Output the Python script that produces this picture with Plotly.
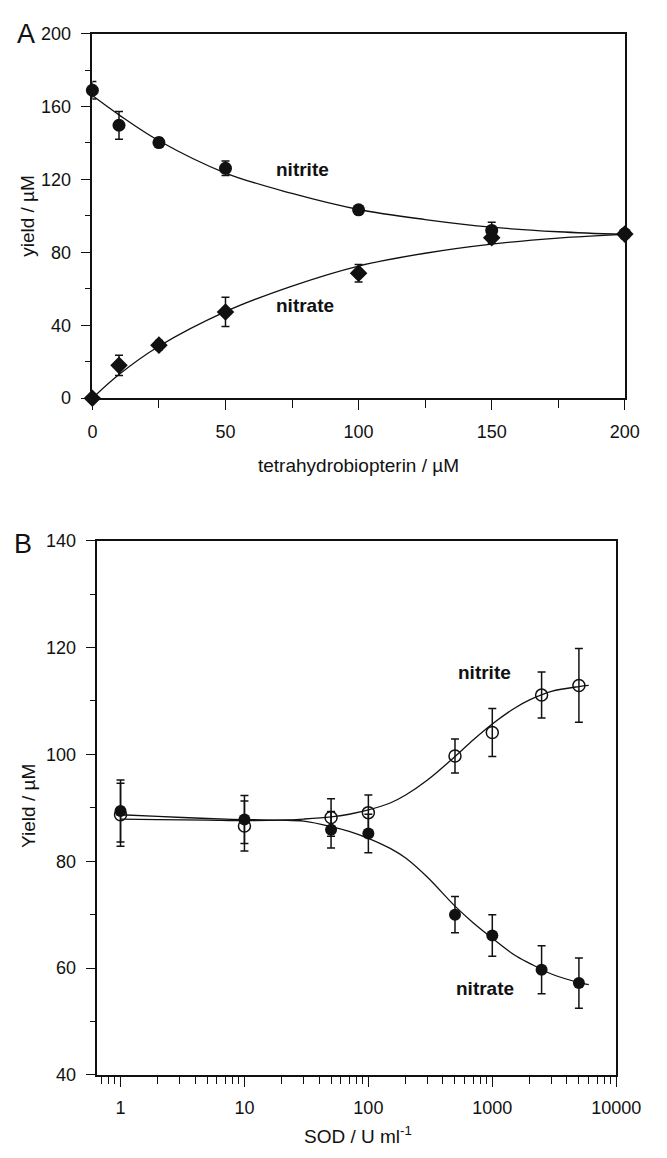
import plotly.graph_objects as go
import math

# ---------------- Panel A data ----------------
a_x = [0, 10, 25, 50, 100, 150, 200]
a_nitrite = [168.9, 149.7, 140.2, 126.1, 103.3, 92.0, 90.2]
a_nitrite_err = [4.8, 7.6, 2.5, 4.0, 1.0, 4.5, 2.0]
a_nitrate = [0.0, 18.0, 29.1, 47.3, 68.6, 88.0, 90.0]
a_nitrate_err = [1.0, 5.5, 2.5, 8.0, 4.8, 3.0, 2.5]

a_fit_x = [0, 10, 25, 50, 75, 100, 125, 150, 175, 200]
a_nitrite_fit = [166.0, 155.4, 141.2, 123.5, 112.3, 103.5, 98.0, 93.8, 91.3, 89.8]
a_nitrate_fit = [0.0, 13.0, 28.5, 47.5, 61.5, 72.5, 79.5, 84.5, 87.8, 89.8]

a_xticks = [0, 50, 100, 150, 200]
a_yticks = [0, 40, 80, 120, 160, 200]

# ---------------- Panel B data ----------------
b_x = [1, 10, 50, 100, 500, 1000, 2500, 5000]
b_nitrite = [88.7, 86.6, 88.2, 89.1, 99.7, 104.1, 111.1, 112.9]
b_nitrite_err = [5.9, 4.7, 3.5, 3.3, 3.2, 4.5, 4.3, 6.9]
b_nitrate = [89.4, 87.8, 85.9, 85.2, 70.0, 66.1, 59.7, 57.2]
b_nitrate_err = [5.8, 4.5, 3.4, 3.6, 3.4, 3.9, 4.5, 4.7]

b_fit_x = [1, 2, 5, 10, 20, 30, 50, 70, 100, 150, 200, 300, 500, 700, 1000, 1500, 2000, 3000, 5000, 6000]
b_nitrite_fit = [87.9, 87.8, 87.7, 87.6, 87.7, 87.9, 88.3, 88.8, 89.6, 90.9, 92.4, 95.2, 99.6, 102.7, 105.7, 108.6, 110.2, 111.8, 112.7, 112.9]
b_nitrate_fit = [88.7, 88.4, 88.0, 87.8, 87.7, 87.5, 86.5, 85.6, 84.3, 82.4, 80.6, 77.0, 71.6, 68.5, 65.6, 62.5, 60.9, 58.9, 57.3, 56.9]

b_xticks = [1, 10, 100, 1000, 10000]
b_xtick_labels = ["1", "10", "100", "1000", "10000"]
b_xminor = [m * 10 ** d for d in range(-1, 4) for m in range(2, 10)]
b_yticks = [40, 60, 80, 100, 120, 140]

FONT = "Liberation Sans, Arial, sans-serif"
BLACK = "#111111"

fig = go.Figure()

# Panel A curves
fig.add_trace(go.Scatter(x=a_fit_x, y=a_nitrite_fit, mode="lines", line=dict(color=BLACK, width=1.3, shape="spline"),
                         xaxis="x", yaxis="y", showlegend=False, hoverinfo="skip"))
fig.add_trace(go.Scatter(x=a_fit_x, y=a_nitrate_fit, mode="lines", line=dict(color=BLACK, width=1.3, shape="spline"),
                         xaxis="x", yaxis="y", showlegend=False, hoverinfo="skip"))
# Panel A points
fig.add_trace(go.Scatter(x=a_x, y=a_nitrate, mode="markers", cliponaxis=False,
                         marker=dict(symbol="diamond", size=13.5, color=BLACK),
                         error_y=dict(type="data", array=a_nitrate_err, color=BLACK, thickness=1.5, width=4),
                         xaxis="x", yaxis="y", showlegend=False))
fig.add_trace(go.Scatter(x=a_x, y=a_nitrite, mode="markers", cliponaxis=False,
                         marker=dict(symbol="circle", size=13, color=BLACK),
                         error_y=dict(type="data", array=a_nitrite_err, color=BLACK, thickness=1.5, width=4),
                         xaxis="x", yaxis="y", showlegend=False))

# Panel B curves
fig.add_trace(go.Scatter(x=b_fit_x, y=b_nitrite_fit, mode="lines", line=dict(color=BLACK, width=1.3, shape="spline"),
                         xaxis="x2", yaxis="y2", showlegend=False, hoverinfo="skip"))
fig.add_trace(go.Scatter(x=b_fit_x, y=b_nitrate_fit, mode="lines", line=dict(color=BLACK, width=1.3, shape="spline"),
                         xaxis="x2", yaxis="y2", showlegend=False, hoverinfo="skip"))
# Panel B points
fig.add_trace(go.Scatter(x=b_x, y=b_nitrate, mode="markers", cliponaxis=False,
                         marker=dict(symbol="circle", size=12, color=BLACK),
                         error_y=dict(type="data", array=b_nitrate_err, color=BLACK, thickness=1.5, width=4),
                         xaxis="x2", yaxis="y2", showlegend=False))
fig.add_trace(go.Scatter(x=b_x, y=b_nitrite, mode="markers", cliponaxis=False,
                         marker=dict(symbol="circle-open", size=12, color=BLACK, line=dict(width=1.5, color=BLACK)),
                         error_y=dict(type="data", array=b_nitrite_err, color=BLACK, thickness=1.5, width=4),
                         xaxis="x2", yaxis="y2", showlegend=False))

W, H = 667, 1158
def px(x):
    return x / W
def py(y):
    return 1 - y / H

axis_common = dict(showline=True, linecolor=BLACK, linewidth=1.5, mirror=True, showgrid=False, zeroline=False,
                   ticks="outside", tickcolor=BLACK, tickwidth=1.3, ticklen=10,
                   tickfont=dict(family=FONT, size=18, color=BLACK), ticklabelstandoff=6)

fig.update_layout(
    width=W, height=H, margin=dict(l=0, r=0, t=0, b=0),
    paper_bgcolor="white", plot_bgcolor="white",
    xaxis=dict(domain=[px(91.5), px(649)], range=[0, 200], tickvals=a_xticks, anchor="y",
               minor=dict(dtick=25, ticks="outside", ticklen=8, tickcolor=BLACK, tickwidth=1.3), **axis_common),
    yaxis=dict(domain=[py(395), py(24)], range=[0, 200], tickvals=a_yticks, anchor="x",
               minor=dict(dtick=20, ticks="outside", ticklen=6, tickcolor=BLACK, tickwidth=1.3), **axis_common),
    xaxis2=dict(domain=[px(96.7), px(640)], type="log", range=[-0.187, 4.0], tickvals=b_xticks, ticktext=b_xtick_labels,
                anchor="y2",
                minor=dict(tickmode="array", tickvals=b_xminor, ticks="outside", ticklen=7, tickcolor=BLACK, tickwidth=1.3),
                **axis_common),
    yaxis2=dict(domain=[py(1083.7), py(540)], range=[40, 140], tickvals=b_yticks, anchor="x2",
                minor=dict(dtick=10, ticks="outside", ticklen=6, tickcolor=BLACK, tickwidth=1.3), **axis_common),
)

ann = []
# panel letters
ann.append(dict(text="A", x=px(22), y=py(24), xref="paper", yref="paper", showarrow=False,
                font=dict(family=FONT, size=27, color=BLACK), xanchor="center", yanchor="middle"))
ann.append(dict(text="B", x=px(19), y=py(543), xref="paper", yref="paper", showarrow=False,
                font=dict(family=FONT, size=27, color=BLACK), xanchor="center", yanchor="middle"))
# axis titles
ann.append(dict(text="yield / µM", x=px(24), y=py(209.5), xref="paper", yref="paper", showarrow=False, textangle=-90,
                font=dict(family=FONT, size=19, color=BLACK), xanchor="center", yanchor="middle"))
ann.append(dict(text="tetrahydrobiopterin / µM", x=px(370), y=py(463), xref="paper", yref="paper", showarrow=False,
                font=dict(family=FONT, size=19, color=BLACK), xanchor="center", yanchor="middle"))
ann.append(dict(text="Yield / µM", x=px(24), y=py(810), xref="paper", yref="paper", showarrow=False, textangle=-90,
                font=dict(family=FONT, size=19, color=BLACK), xanchor="center", yanchor="middle"))
ann.append(dict(text="SOD / U ml<sup>-1</sup>", x=px(370), y=py(1145), xref="paper", yref="paper", showarrow=False,
                font=dict(family=FONT, size=19, color=BLACK), xanchor="center", yanchor="middle"))
# series labels
ann.append(dict(text="<b>nitrite</b>", x=79, y=125.5, xref="x", yref="y", showarrow=False,
                font=dict(family=FONT, size=19, color=BLACK)))
ann.append(dict(text="<b>nitrate</b>", x=80, y=51, xref="x", yref="y", showarrow=False,
                font=dict(family=FONT, size=19, color=BLACK)))
ann.append(dict(text="<b>nitrite</b>", x=math.log10(870), y=115.3, xref="x2", yref="y2", showarrow=False,
                font=dict(family=FONT, size=19, color=BLACK)))
ann.append(dict(text="<b>nitrate</b>", x=math.log10(880), y=56.1, xref="x2", yref="y2", showarrow=False,
                font=dict(family=FONT, size=19, color=BLACK)))
fig.update_layout(annotations=ann)

fig.write_html("out.html")
